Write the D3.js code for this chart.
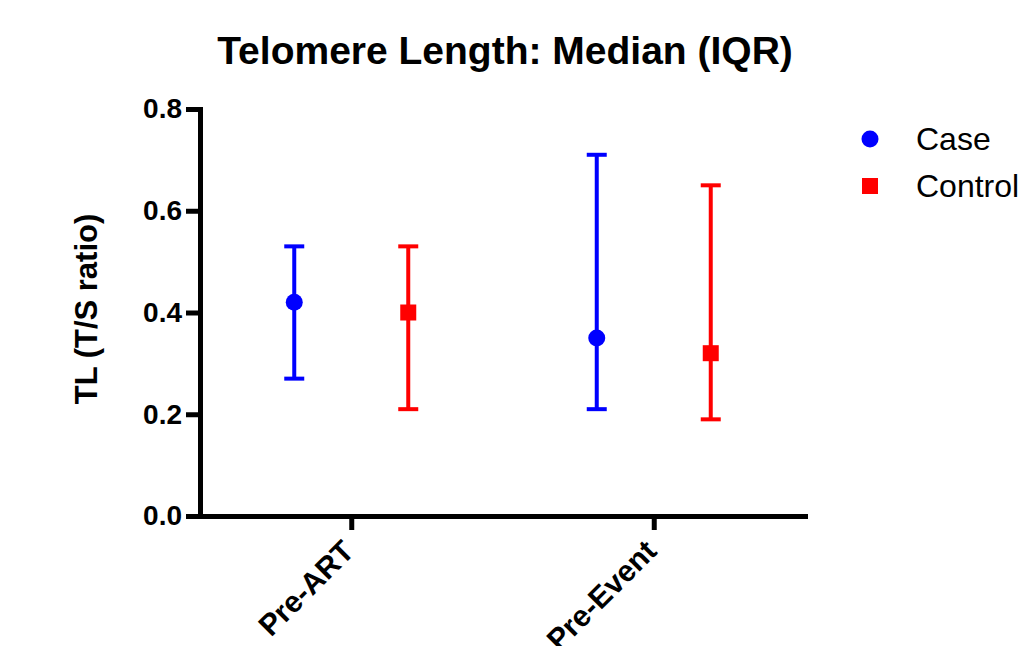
<!DOCTYPE html>
<html>
<head>
<meta charset="utf-8">
<script src="https://cdn.jsdelivr.net/npm/d3@7"></script>
<style>
  body { margin: 0; background: #fff; }
  text { font-family: "Liberation Sans", Arial, sans-serif; }
</style>
</head>
<body>
<div class="svg-container"></div>
<script>
const groups = ['Pre-ART', 'Pre-Event'];
const seriesNames = ['Case', 'Control'];
const caseMedian = [0.42, 0.35];
const caseQ1 = [0.27, 0.21];
const caseQ3 = [0.53, 0.71];
const controlMedian = [0.40, 0.32];
const controlQ1 = [0.21, 0.19];
const controlQ3 = [0.53, 0.65];
const yTicks = [0, 0.2, 0.4, 0.6, 0.8];

const outerWidth = 1032;
const outerHeight = 646;
const margin = { left: 200, top: 109, right: 227, bottom: 130 };

const colors = { Case: '#0000ff', Control: '#ff0000' };

const svg = d3.select('.svg-container')
  .append('svg')
  .attr('width', outerWidth)
  .attr('height', outerHeight);

const rows = [];
groups.forEach((g, i) => {
  rows.push({ group: g, series: 'Case', median: caseMedian[i], q1: caseQ1[i], q3: caseQ3[i] });
  rows.push({ group: g, series: 'Control', median: controlMedian[i], q1: controlQ1[i], q3: controlQ3[i] });
});

const xScale = d3.scalePoint()
  .domain(groups)
  .range([margin.left, outerWidth - margin.right])
  .padding(0.5);

const xInner = d3.scalePoint()
  .domain(seriesNames)
  .range([-57, 57]);

const yScale = d3.scaleLinear()
  .domain([0, 0.8])
  .range([outerHeight - margin.bottom, margin.top]);

// title
svg.append('text')
  .attr('x', 505)
  .attr('y', 64)
  .attr('text-anchor', 'middle')
  .style('font-size', '39px')
  .style('font-weight', 'bold')
  .text('Telomere Length: Median (IQR)');

// y axis
const yAxis = d3.axisLeft(yScale)
  .tickValues(yTicks)
  .tickFormat(d3.format('.1f'))
  .tickSize(14)
  .tickSizeOuter(0)
  .tickPadding(4);

const yG = svg.append('g')
  .attr('transform', `translate(${margin.left}, 0)`)
  .call(yAxis);
yG.select('.domain').attr('stroke-width', 5).attr('stroke-linecap', 'square');
yG.selectAll('.tick line').attr('stroke-width', 5);
yG.selectAll('.tick text')
  .style('font-size', '28px')
  .style('font-weight', 'bold')
  .attr('fill', '#000');

// x axis
const xAxis = d3.axisBottom(xScale)
  .tickSize(14)
  .tickSizeOuter(0);

const xG = svg.append('g')
  .attr('transform', `translate(0, ${yScale(0)})`)
  .call(xAxis);
xG.select('.domain').attr('stroke-width', 5).attr('stroke-linecap', 'square');
xG.selectAll('.tick line').attr('stroke-width', 5);
xG.selectAll('.tick text')
  .attr('x', 0)
  .attr('y', 0)
  .attr('dy', 0)
  .attr('text-anchor', 'end')
  .attr('transform', 'translate(4, 37) rotate(-45)')
  .style('font-size', '30px')
  .style('font-weight', 'bold')
  .attr('fill', '#000');

// y title
svg.append('text')
  .attr('transform', `translate(97, 309) rotate(-90)`)
  .attr('text-anchor', 'middle')
  .style('font-size', '31px')
  .style('font-weight', 'bold')
  .text('TL (T/S ratio)');

// error bars
const bars = svg.append('g')
  .selectAll('g')
  .data(rows)
  .enter()
  .append('g')
  .attr('transform', d => `translate(${xScale(d.group) + xInner(d.series)}, 0)`);

bars.append('line')
  .attr('y1', d => yScale(d.q1))
  .attr('y2', d => yScale(d.q3))
  .attr('stroke', d => colors[d.series])
  .attr('stroke-width', 4);

bars.selectAll('.cap')
  .data(d => [d.q1, d.q3].map(v => ({ v, s: d.series })))
  .enter()
  .append('line')
  .attr('class', 'cap')
  .attr('x1', -10)
  .attr('x2', 10)
  .attr('y1', d => yScale(d.v))
  .attr('y2', d => yScale(d.v))
  .attr('stroke', d => colors[d.s])
  .attr('stroke-width', 4);

bars.filter(d => d.series === 'Case')
  .append('circle')
  .attr('cy', d => yScale(d.median))
  .attr('r', 8.5)
  .attr('fill', colors.Case);

bars.filter(d => d.series === 'Control')
  .append('rect')
  .attr('x', -8)
  .attr('y', d => yScale(d.median) - 8)
  .attr('width', 16)
  .attr('height', 16)
  .attr('fill', colors.Control);

// legend
const legend = svg.append('g')
  .attr('transform', 'translate(870, 139)');

seriesNames.forEach((s, i) => {
  const item = legend.append('g')
    .attr('transform', `translate(0, ${i * 47})`);
  if (s === 'Case') {
    item.append('circle').attr('r', 8.5).attr('fill', colors[s]);
  } else {
    item.append('rect')
      .attr('x', -8).attr('y', -8)
      .attr('width', 16).attr('height', 16)
      .attr('fill', colors[s]);
  }
  item.append('text')
    .attr('x', 46)
    .attr('y', 11)
    .style('font-size', '32px')
    .text(s);
});
</script>
</body>
</html>
